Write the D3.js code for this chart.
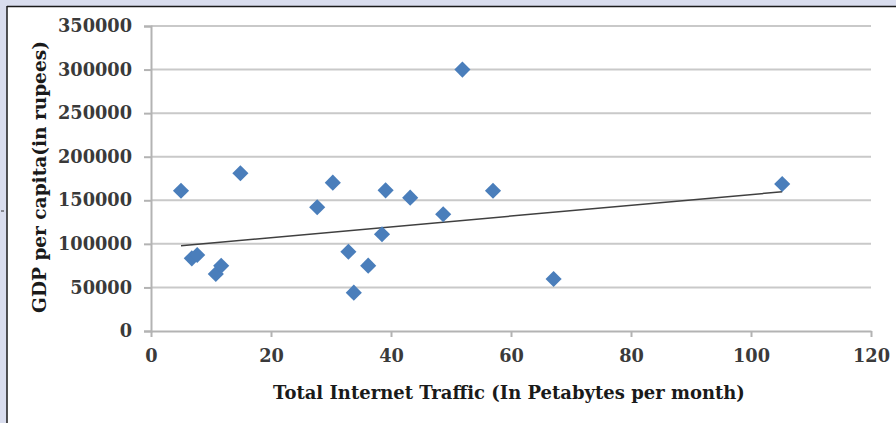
<!DOCTYPE html>
<html>
<head>
<meta charset="utf-8">
<script src="https://cdn.jsdelivr.net/npm/d3@7"></script>
<style>
  html, body { margin: 0; padding: 0; background: #d9ddee; }
  svg { display: block; }
</style>
</head>
<body>
<svg id="chart" width="896" height="423"></svg>
<script>
// Internet traffic (PB/month) against GDP per capita (rupees)
const traffic = [5, 6.8, 7.7, 10.8, 11.7, 14.9, 27.7, 30.3, 32.9, 33.8, 36.2, 39.1, 38.5, 43.2, 48.7, 51.9, 57, 67.1, 105.2];
const gdp = [161000, 83400, 87200, 65400, 74900, 181000, 142000, 170200, 91000, 44000, 75000, 161400, 111000, 153000, 134000, 300000, 161000, 59700, 168700];

// Linear trend line end points
const trendX = [5, 105.2];
const trendY = [97900, 159800];

const xTicks = [0, 20, 40, 60, 80, 100, 120];
const yTicks = [0, 50000, 100000, 150000, 200000, 250000, 300000, 350000];

const xTitle = "Total Internet Traffic (In Petabytes per month)";
const yTitle = "GDP per capita(in rupees)";

const svg = d3.select("#chart");
const W = 896, H = 423;

// white plot panel with dark top/left edge
svg.append("rect").attr("x", 7).attr("y", 7).attr("width", W - 7).attr("height", H - 7).attr("fill", "#ffffff");
svg.append("line").attr("x1", 7).attr("x2", W).attr("y1", 6.5).attr("y2", 6.5).attr("stroke", "#1a1a1a").attr("stroke-width", 1.5);
svg.append("line").attr("x1", 7).attr("x2", 7).attr("y1", 6).attr("y2", H).attr("stroke", "#1a1a1a").attr("stroke-width", 1.5);
svg.append("line").attr("x1", 1).attr("x2", 4).attr("y1", 211).attr("y2", 211).attr("stroke", "#333").attr("stroke-width", 1);

const x = d3.scaleLinear().domain([0, 120]).range([151, 871]);
const y = d3.scaleLinear().domain([0, 350000]).range([331, 26]);

const font = "'DejaVu Serif', 'Liberation Serif', serif";

// shrink or grow a text element's font so it spans the given width
function fitWidth(sel, width, base) {
  sel.attr("font-size", base);
  const w = sel.node().getComputedTextLength();
  sel.attr("font-size", base * width / w);
}

// horizontal gridlines
svg.append("g").selectAll("line").data(yTicks.filter(d => d > 0)).join("line")
  .attr("x1", x(0)).attr("x2", x(120))
  .attr("y1", d => y(d)).attr("y2", d => y(d))
  .attr("stroke", "#c9c9c9").attr("stroke-width", 2);

// tick label size: the widest y label spans about 75px
const probe = svg.append("text").attr("font-family", font).attr("font-weight", "bold").text("350000");
fitWidth(probe, 74, 20);
const tickSize = +probe.attr("font-size");
probe.remove();

// y axis
const yAxis = svg.append("g").attr("transform", `translate(${x(0)},0)`)
  .call(d3.axisLeft(y).tickValues(yTicks).tickSize(7).tickPadding(12).tickFormat(d3.format("d")));
yAxis.select(".domain").attr("stroke", "#b3b3b3").attr("stroke-width", 2);
yAxis.selectAll(".tick line").attr("stroke", "#b3b3b3").attr("stroke-width", 2);
yAxis.selectAll(".tick text").attr("fill", "#3a3a3a").attr("font-family", font)
  .attr("font-weight", "bold").attr("font-size", tickSize);

// x axis
const xAxis = svg.append("g").attr("transform", `translate(0,${y(0)})`)
  .call(d3.axisBottom(x).tickValues(xTicks).tickSize(6).tickPadding(12).tickSizeOuter(0));
xAxis.select(".domain").attr("stroke", "#b3b3b3").attr("stroke-width", 2);
xAxis.selectAll(".tick line").attr("stroke", "#b3b3b3").attr("stroke-width", 2);
xAxis.selectAll(".tick text").attr("fill", "#3a3a3a").attr("font-family", font)
  .attr("font-weight", "bold").attr("font-size", tickSize);

// trend line
svg.append("line")
  .attr("x1", x(trendX[0])).attr("y1", y(trendY[0]))
  .attr("x2", x(trendX[1])).attr("y2", y(trendY[1]))
  .attr("stroke", "#404040").attr("stroke-width", 1.5);

// diamond markers
const diamond = d3.symbol().type(d3.symbolSquare).size(130);
svg.append("g").selectAll("path").data(traffic.map((t, i) => [t, gdp[i]])).join("path")
  .attr("d", diamond)
  .attr("transform", d => `translate(${x(d[0])},${y(d[1])}) rotate(45)`)
  .attr("fill", "#4a7ebb");

// axis titles
const xt = svg.append("text").attr("x", (x(0) + x(120)) / 2 - 2).attr("y", 399)
  .attr("text-anchor", "middle").attr("font-family", font).attr("font-weight", "bold")
  .attr("fill", "#1a1a1a").text(xTitle);
fitWidth(xt, 472, 18);

const yt = svg.append("text").attr("transform", "translate(46,177) rotate(-90)")
  .attr("text-anchor", "middle").attr("font-family", font).attr("font-weight", "bold")
  .attr("fill", "#1a1a1a").text(yTitle);
fitWidth(yt, 272, 18);
</script>
</body>
</html>
